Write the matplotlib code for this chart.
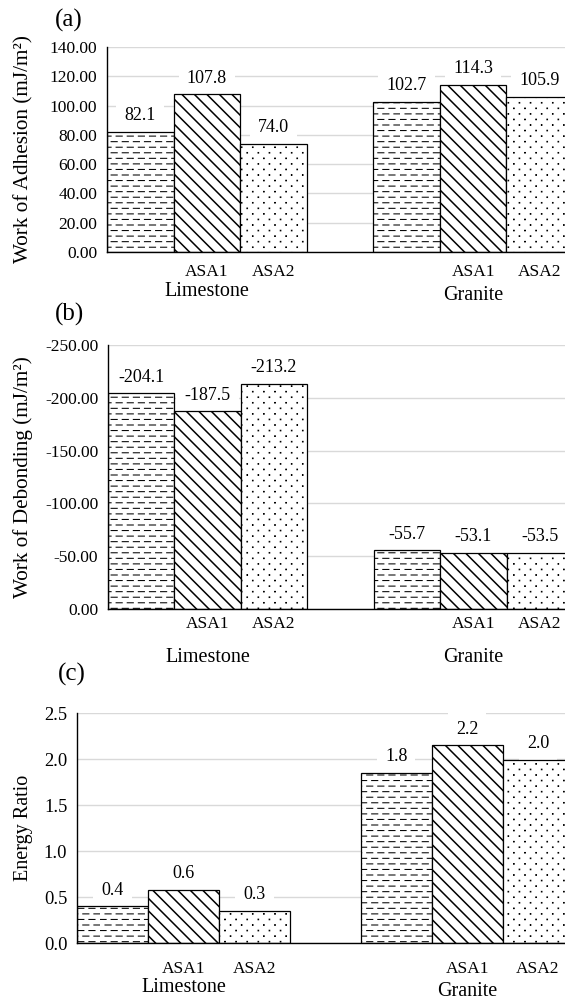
"""Work of adhesion, work of debonding and energy ratio for two aggregates (panels a-c)."""

import matplotlib

matplotlib.use("Agg")
import matplotlib.hatch as mhatch
import matplotlib.pyplot as plt
from matplotlib.path import Path
from matplotlib.ticker import FormatStrFormatter, MultipleLocator

AGGREGATES = ["Limestone", "Granite"]
BINDER_TICKS = ["", "ASA1", "ASA2"]

ADHESION = [[82.1, 107.8, 74.0], [102.7, 114.3, 105.9]]
ADHESION_LABELS = [["82.1", "107.8", "74.0"], ["102.7", "114.3", "105.9"]]
DEBONDING = [[-204.1, -187.5, -213.2], [-55.7, -53.1, -53.5]]
DEBONDING_LABELS = [["-204.1", "-187.5", "-213.2"], ["-55.7", "-53.1", "-53.5"]]
ENERGY_RATIO = [[0.40, 0.58, 0.35], [1.85, 2.15, 1.99]]
ENERGY_RATIO_LABELS = [["0.4", "0.6", "0.3"], ["1.8", "2.2", "2.0"]]

W, H, DPI = 565, 1002, 100


# --- Excel-like fill patterns, drawn through matplotlib's hatch machinery -----------
class DashedRows(mhatch.HatchPatternBase):
    rows, cols, frac = 18, 9, 0.55

    def __init__(self, hatch, density):
        self.num_vertices = self.rows * self.cols * 2 if "-" in hatch else 0

    def set_vertices_and_codes(self, vertices, codes):
        k = 0
        for r in range(self.rows):
            y = (r + 0.5) / self.rows
            shift = 0.45 * (r % 2)
            for c in range(self.cols):
                x0 = (c + shift) / self.cols
                vertices[k] = (x0, y)
                vertices[k + 1] = (x0 + self.frac / self.cols, y)
                codes[k] = Path.MOVETO
                codes[k + 1] = Path.LINETO
                k += 2


class DiagonalLines(mhatch.HatchPatternBase):
    n = 8

    def __init__(self, hatch, density):
        self.num_vertices = (2 * self.n + 1) * 2 if "\\" in hatch else 0

    def set_vertices_and_codes(self, vertices, codes):
        for k in range(2 * self.n + 1):
            c = k / self.n
            vertices[2 * k] = (c - 1.0, 1.0)
            vertices[2 * k + 1] = (c, 0.0)
            codes[2 * k] = Path.MOVETO
            codes[2 * k + 1] = Path.LINETO


class DotLattice(mhatch.HatchPatternBase):
    rows, cols, half = 18, 9, 0.003

    def __init__(self, hatch, density):
        self.num_vertices = self.rows * self.cols * 5 if "." in hatch else 0

    def set_vertices_and_codes(self, vertices, codes):
        k = 0
        h = self.half
        for r in range(self.rows):
            y = (r + 0.5) / self.rows
            shift = 0.5 * (r % 2)
            for c in range(self.cols):
                x = (c + 0.25 + shift) / self.cols
                vertices[k:k + 5] = [(x - h, y - h), (x + h, y - h), (x + h, y + h),
                                     (x - h, y + h), (x - h, y - h)]
                codes[k:k + 5] = [Path.MOVETO, Path.LINETO, Path.LINETO,
                                  Path.LINETO, Path.CLOSEPOLY]
                k += 5


mhatch._hatch_types = [DashedRows, DiagonalLines, DotLattice]

PATTERNS = ["-", "\\", "."]
HATCH_WIDTHS = [0.75, 1.1, 0.75]

plt.rcParams["font.family"] = ["Liberation Serif", "DejaVu Serif"]
plt.rcParams["hatch.color"] = "black"

fig = plt.figure(figsize=(W / DPI, H / DPI), dpi=DPI)


def add_panel(left, top, bottom, values, labels, ylim, step, fmt, ylabel,
              ylabel_size, ytick_size, tick_pad, group_offs):
    ax = fig.add_axes([left / W, 1 - bottom / H, (W - left) / W, (bottom - top) / H])
    for g, group in enumerate(values):
        for b, value in enumerate(group):
            x = g * 4 + b + 0.5
            with plt.rc_context({"hatch.linewidth": HATCH_WIDTHS[b]}):
                bar = ax.bar(x, value, width=1.0, facecolor="white", edgecolor="black",
                             linewidth=0.9, hatch=PATTERNS[b], zorder=2)[0]
            if hasattr(bar, "set_hatch_linewidth"):
                bar.set_hatch_linewidth(HATCH_WIDTHS[b])
            # white box only hides the gridlines, bars are drawn on top of it
            ax.annotate(labels[g][b], xy=(x, value), xytext=(0, 11.5),
                        textcoords="offset points", ha="center", va="center",
                        fontsize=13, zorder=1.5,
                        bbox=dict(boxstyle="square,pad=0.45", fc="white", ec="none"))
        ax.annotate(AGGREGATES[g], xy=(g * 4 + 1.5, 0), xycoords=("data", "axes fraction"),
                    xytext=(0, -group_offs[g] * 0.72), textcoords="offset points",
                    ha="center", va="center", fontsize=14.5, annotation_clip=False)

    ax.set_xlim(0, 6.88)
    ax.set_ylim(*ylim)
    ax.set_xticks([g * 4 + b + 0.5 for g in range(len(values)) for b in range(3)])
    ax.set_xticklabels(BINDER_TICKS * len(values))
    ax.tick_params(axis="x", length=0, labelsize=12.5, pad=tick_pad)
    ax.tick_params(axis="y", length=0, labelsize=ytick_size, pad=7)
    ax.yaxis.set_major_locator(MultipleLocator(step))
    ax.yaxis.set_major_formatter(FormatStrFormatter(fmt))
    ax.yaxis.grid(True, color="#d9d9d9", linewidth=1.0)
    ax.set_axisbelow(True)
    for side in ("top", "right"):
        ax.spines[side].set_visible(False)
    for side in ("left", "bottom"):
        ax.spines[side].set_color("black")
        ax.spines[side].set_linewidth(1.0)
    ax.set_ylabel(ylabel, fontsize=ylabel_size)
    # label anchor is the right-hand side of the rotated text
    ax.yaxis.set_label_coords((33 - left) / (W - left), 0.5)
    return ax


add_panel(107, 47, 252, ADHESION, ADHESION_LABELS, (0, 140), 20, "%.2f",
          "Work of Adhesion (mJ/m²)", 15.3, 12.5, 9, (40, 43))
add_panel(108, 345, 609, DEBONDING, DEBONDING_LABELS, (0, -250), 50, "%.2f",
          "Work of Debonding (mJ/m²)", 15.3, 12.5, 5, (48, 48))
add_panel(77, 713, 943, ENERGY_RATIO, ENERGY_RATIO_LABELS, (0, 2.5), 0.5, "%.1f",
          "Energy Ratio", 14.5, 13.3, 13, (44, 49))

for letter, (px, py) in zip("abc", [(69, 20), (69, 314), (72, 674)]):
    fig.text(px / W, 1 - py / H, f"({letter})", ha="center", va="center", fontsize=18)

fig.savefig("out.png", dpi=DPI)
